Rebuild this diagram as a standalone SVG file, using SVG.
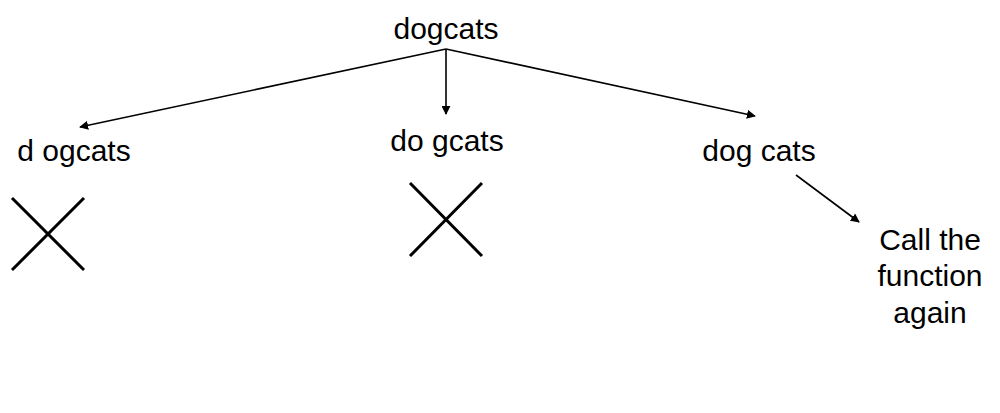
<svg xmlns="http://www.w3.org/2000/svg" width="1000" height="413" viewBox="0 0 1000 413">
<style>
text{font-family:"Helvetica","Liberation Sans",Arial,sans-serif;font-size:30px;fill:#000}
.l{stroke:#000;stroke-width:1.6;fill:none}
.x{stroke:#000;stroke-width:3;fill:none}
</style>
<defs><marker id="a" viewBox="0 0 10 10" refX="9" refY="5" markerWidth="9" markerHeight="9" markerUnits="userSpaceOnUse" orient="auto"><path d="M0,0L10,5L0,10z" fill="#000"/></marker></defs>
<rect width="1000" height="413" fill="#fff"/>
<g id="root"><text x="446" y="39" text-anchor="middle">dogcats</text></g>
<g id="n1"><text x="74" y="161" text-anchor="middle">d ogcats</text><path class="x" d="M12,198L84,270M84,198L12,270"/></g>
<g id="n2"><text x="447" y="151" text-anchor="middle">do gcats</text><path class="x" d="M410,183L482,256M482,183L410,256"/></g>
<g id="n3"><text x="759" y="161" text-anchor="middle">dog cats</text></g>
<g id="n4"><text x="930" y="250" text-anchor="middle">Call the</text><text x="930" y="286" text-anchor="middle">function</text><text x="930" y="323" text-anchor="middle">again</text></g>
<g id="connectors">
<path class="l" d="M446,49L80,127" marker-end="url(#a)"/>
<path class="l" d="M446,49L446,114" marker-end="url(#a)"/>
<path class="l" d="M446,49L755,116" marker-end="url(#a)"/>
<path class="l" d="M796,175L859,222" marker-end="url(#a)"/>
</g>
</svg>
